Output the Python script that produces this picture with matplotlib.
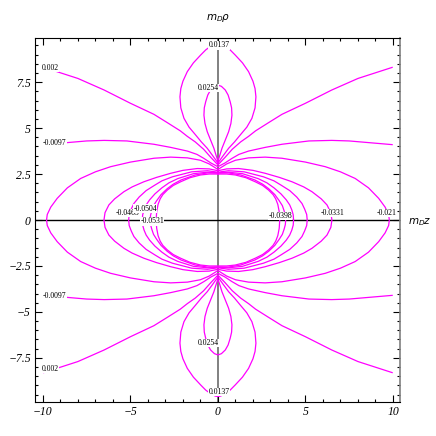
import matplotlib
matplotlib.use("Agg")
import matplotlib.pyplot as plt
from matplotlib.ticker import MultipleLocator

# first-quadrant traces (z >= 0, rho >= 0), mirrored later
# open curves that run from the z=0 axis out to the edge
z_002 = [0, 0.2, 0.4, 0.82, 1.3, 1.75, 2.15, 2.9, 3.66, 5.0, 6.5, 8.0, 9.95]
rho_002 = [3.0, 3.2, 3.4, 3.85, 4.25, 4.55, 4.85, 5.3, 5.75, 6.35, 7.07, 7.7, 8.3]

z_0097 = [0, 0.4, 0.8, 1.2, 1.75, 2.7, 3.66, 5.2, 6.5, 7.5, 9.95]
rho_0097 = [2.9, 3.1, 3.35, 3.57, 3.75, 3.95, 4.12, 4.3, 4.33, 4.3, 4.1]

# closed loops around the origin (quarter each)
z_021 = [0, 0.5, 1.0, 1.75, 2.7, 3.65, 5.0, 6.13, 7.0, 7.84, 8.6, 9.18, 9.55, 9.75, 9.79]
rho_021 = [2.75, 3.05, 3.25, 3.38, 3.42, 3.36, 3.15, 2.9, 2.62, 2.26, 1.75, 1.18, 0.7, 0.3, 0]

z_0331 = [0, 0.5, 1.18, 2.0, 2.7, 3.5, 4.23, 4.9, 5.37, 5.9, 6.23, 6.45, 6.51]
rho_0331 = [2.68, 2.78, 2.8, 2.7, 2.54, 2.32, 2.08, 1.8, 1.54, 1.15, 0.82, 0.4, 0]

z_loop3 = [0, 0.6, 1.5, 2.6, 3.2, 3.6, 4.1, 4.5, 4.8, 4.95, 5.07, 5.1]
rho_loop3 = [2.6, 2.68, 2.62, 2.35, 2.13, 1.9, 1.6, 1.25, 0.9, 0.6, 0.3, 0]

z_loop4 = [0, 0.6, 1.4, 2.3, 2.8, 3.2, 3.6, 3.9, 4.1, 4.22, 4.3, 4.32]
rho_loop4 = [2.57, 2.6, 2.52, 2.25, 2.02, 1.75, 1.42, 1.1, 0.82, 0.55, 0.28, 0]

z_loop5 = [0, 0.6, 1.3, 2.1, 2.55, 2.9, 3.25, 3.5, 3.68, 3.78, 3.85, 3.87]
rho_loop5 = [2.55, 2.56, 2.45, 2.18, 1.95, 1.7, 1.38, 1.05, 0.78, 0.5, 0.25, 0]

z_loop6 = [0, 0.5, 0.99, 1.6, 2.13, 2.55, 2.89, 3.15, 3.3, 3.42, 3.5, 3.53]
rho_loop6 = [2.5, 2.5, 2.45, 2.3, 2.08, 1.88, 1.63, 1.38, 1.15, 0.85, 0.45, 0]

# teardrops above / below (right half, bottom point to top point)
z_0137 = [0, 0.3, 0.61, 0.95, 1.27, 1.65, 1.94, 2.12, 2.17, 2.12, 2.0, 1.75,
          1.4, 0.99, 0.7, 0.42, 0.15, 0]
rho_0137 = [3.1, 3.5, 3.9, 4.25, 4.62, 5.05, 5.53, 6.1, 6.7, 7.15, 7.55, 8.07,
            8.55, 8.97, 9.25, 9.45, 9.58, 9.6]

z_0254 = [0, 0.1, 0.23, 0.42, 0.61, 0.74, 0.8, 0.78, 0.7, 0.58, 0.42, 0.2, 0]
rho_0254 = [3.2, 3.5, 3.9, 4.35, 4.8, 5.25, 5.7, 6.1, 6.43, 6.8, 7.07, 7.27, 7.34]

# contour labels: text, z, rho
label_text = ["0.0137", "0.0254", "0.002", "-0.0097", "-0.021", "-0.0331",
              "-0.0398", "-0.0465", "-0.0504", "-0.0531",
              "0.0137", "0.0254", "0.002", "-0.0097"]
label_z = [0.05, -0.55, -9.6, -9.33, 9.62, 6.56, 3.56, -5.15, -4.16, -3.76,
           0.05, -0.55, -9.6, -9.33]
label_rho = [9.5, 7.17, 8.26, 4.18, 0.38, 0.38, 0.22, 0.38, 0.62, -0.08,
             -9.35, -6.7, -8.1, -4.13]

MAG = "#ff00ff"

fig = plt.figure(figsize=(4.36, 4.36), dpi=100)
ax = fig.add_axes([35 / 436, 34 / 436, 365 / 436, 364 / 436])


def neg(vals):
    return [-v for v in vals]


def draw_open(z, rho):
    zz = neg(z[::-1]) + z
    rr = rho[::-1] + rho
    ax.plot(zz, rr, color=MAG, lw=0.9, zorder=2)
    ax.plot(zz, neg(rr), color=MAG, lw=0.9, zorder=2)


def draw_loop(z, rho):
    # quarter -> full closed loop
    zz = z + z[::-1] + neg(z) + neg(z[::-1])
    rr = rho + neg(rho[::-1]) + neg(rho) + rho[::-1]
    ax.plot(zz, rr, color=MAG, lw=0.9, zorder=2)


def draw_drop(z, rho):
    zz = z + neg(z[::-1])
    rr = rho + rho[::-1]
    ax.plot(zz, rr, color=MAG, lw=0.9, zorder=2)
    ax.plot(zz, neg(rr), color=MAG, lw=0.9, zorder=2)


draw_open(z_002, rho_002)
draw_open(z_0097, rho_0097)
for zq, rq in [(z_021, rho_021), (z_0331, rho_0331), (z_loop3, rho_loop3),
               (z_loop4, rho_loop4), (z_loop5, rho_loop5), (z_loop6, rho_loop6)]:
    draw_loop(zq, rq)
draw_drop(z_0137, rho_0137)
draw_drop(z_0254, rho_0254)

# axes through the origin
ax.axvline(0, color="#808080", lw=1.4, zorder=1)
ax.axhline(0, color="black", lw=1.0, zorder=1)

for t, x, y in zip(label_text, label_z, label_rho):
    ax.text(x, y, t, fontsize=5.6, family="Liberation Serif", ha="center", va="center",
            zorder=4, bbox=dict(fc="white", ec="none", pad=0.2))

ax.set_xlim(-10.45, 10.4)
ax.set_ylim(-9.9, 9.9)
ax.xaxis.set_minor_locator(MultipleLocator(1))
ax.yaxis.set_minor_locator(MultipleLocator(0.5))
ax.tick_params(which="both", direction="in", top=True, right=True, width=0.8)
ax.tick_params(which="major", length=5)
ax.tick_params(which="minor", length=2.5)
ax.tick_params(labelsize=8.5, pad=3)
ax.set_xticks([-10, -5, 0, 5, 10])
ax.set_xticklabels(["\u221210", "\u22125", "0", "5", "10"])
ax.set_yticks([-7.5, -5, -2.5, 0, 2.5, 5, 7.5])
ax.set_yticklabels(["\u22127.5", "\u22125", "\u22122.5", "0", "2.5", "5", "7.5"])
for lab in ax.get_xticklabels() + ax.get_yticklabels():
    lab.set_family("Liberation Serif")
    lab.set_style("italic")
ax.spines["right"].set_color("#808080")
ax.spines["right"].set_linewidth(1.2)

fig.text(218 / 436, 1 - 18 / 436, r"$m_D\rho$", fontsize=7.5, ha="center", va="center")
fig.text(420 / 436, 1 - 222 / 436, r"$m_Dz$", fontsize=7.5, ha="center", va="center")

fig.savefig("out.png", dpi=100)
